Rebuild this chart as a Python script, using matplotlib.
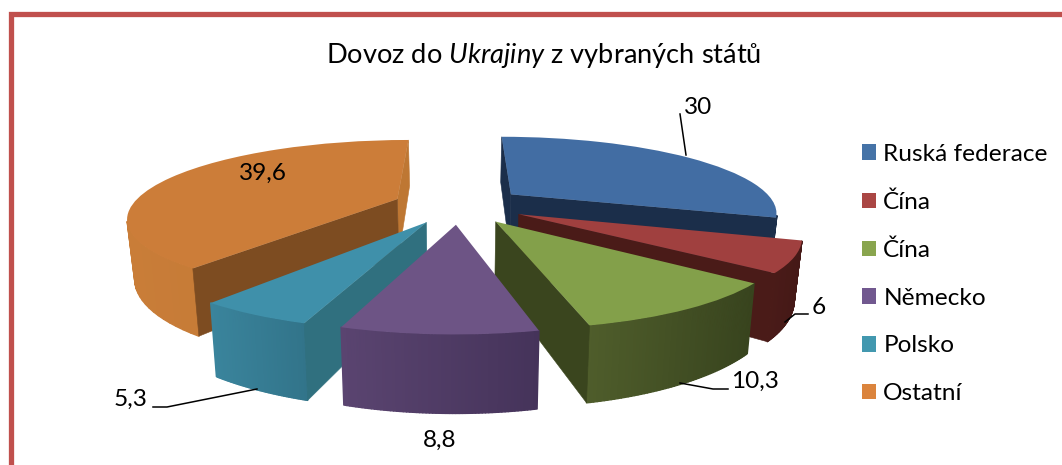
import numpy as np
import matplotlib
matplotlib.use('Agg')
from matplotlib import pyplot as plt
from matplotlib.collections import PolyCollection
from matplotlib.colors import to_rgb
from matplotlib.patches import Patch, Polygon
from matplotlib.transforms import Transform

plt.rcParams['font.family'] = ['Lato', 'DejaVu Sans']
plt.rcParams['mathtext.fontset'] = 'custom'
plt.rcParams['mathtext.rm'] = 'Lato'
plt.rcParams['mathtext.it'] = 'Lato:italic'

# data
labels = ['Ruská federace', 'Čína', 'Čína', 'Německo', 'Polsko', 'Ostatní']
values = [30, 6, 10.3, 8.8, 5.3, 39.6]
value_labels = ['30', '6', '10,3', '8,8', '5,3', '39,6']

legend_colors = ['#4573A7', '#AA4644', '#89A54E', '#71588F', '#4298AF', '#DB843D']
top_colors = ['#426DA3', '#A0403F', '#83A04A', '#6D5485', '#3F90AA', '#CC7D39']
rim_left = ['#2A4468', '#4A1B18', '#4F5D2B', '#5A4470', '#3A849C', '#C97D38']
rim_right = ['#1B2E4A', '#451917', '#38441E', '#45335A', '#32748A', '#BE7635']
start_wall_colors = ['#1B2E4A', '#4A1B18', '#3A451E', '#44335A', '#30707F', '#BE7733']
end_wall_colors = ['#1B2E4A', '#4A1B18', '#3A451E', '#44335A', '#30707F', '#7D4C21']
draw_order = [1, 2, 3, 5, 4, 0]  # painter's order of the slices, back to front

# camera of the 3d pie, in pixels
CX, CY, HORIZON = 459, 205, -130
R, P, DEPTH, SHRINK = 265, 0.223, 57, 0.023


def project(x, y, z=0.0):
    w = 1 + P * np.asarray(y)
    sx = CX + np.asarray(x) * R / w * (1 - SHRINK * z)
    sy = HORIZON + (CY - HORIZON) / w + DEPTH * z / w
    return sx, sy


class PieProjection(Transform):
    input_dims = output_dims = 2
    is_affine = False
    has_inverse = False

    def transform_non_affine(self, values):
        sx, sy = project(values[:, 0], values[:, 1])
        return np.column_stack([sx, sy])


def area(pts):
    x, y = np.asarray(pts).T
    return 0.5 * np.sum(x * np.roll(y, -1) - np.roll(x, -1) * y)


fig = plt.figure(figsize=(10.62, 4.65), dpi=100, facecolor='white')
ax = fig.add_axes([0, 0, 1, 1])

wedges, _ = ax.pie(values, explode=[0.25] * 6, startangle=90, counterclock=False,
                   colors=top_colors)
ax.set_aspect('auto')
ax.set_xlim(0, 1062)
ax.set_ylim(465, 0)
ax.axis('off')

proj = PieProjection()
for i, wedge in enumerate(wedges):
    z0 = (draw_order[i] + 1) * 10
    wedge.set_transform(proj + ax.transData)
    wedge.set_zorder(z0 + 3)
    wedge.set_linewidth(0)
    cx, cy = wedge.center
    t = np.radians(np.linspace(wedge.theta1, wedge.theta2, 61))
    ax_x = cx + wedge.r * np.cos(t)
    ax_y = cy + wedge.r * np.sin(t)

    # outer rim, cut in strips for the shading
    top_x, top_y = project(ax_x, ax_y, 0)
    bot_x, bot_y = project(ax_x, ax_y, 1)
    polys, cols = [], []
    c_l, c_r = np.array(to_rgb(rim_left[i])), np.array(to_rgb(rim_right[i]))
    span = max(top_x.max() - top_x.min(), 1)
    for k in range(len(t) - 1):
        quad = [(top_x[k], top_y[k]), (top_x[k + 1], top_y[k + 1]),
                (bot_x[k + 1], bot_y[k + 1]), (bot_x[k], bot_y[k])]
        if area(quad) < 0:
            continue
        f = (top_x[k] - top_x.min()) / span
        polys.append(quad)
        cols.append(c_l * (1 - f) + c_r * f)
    if polys:
        # plain edges overlap the seams, otherwise the strips show as hatching
        ax.add_collection(PolyCollection(polys, facecolors=cols, edgecolors=cols,
                                         linewidths=1.0, zorder=z0 + 1))

    # the two flat walls
    for end, col in ((0, start_wall_colors[i]), (-1, end_wall_colors[i])):
        ox, oy = ax_x[end], ax_y[end]
        quad = [project(cx, cy, 0), project(ox, oy, 0),
                project(ox, oy, 1), project(cx, cy, 1)]
        facing = area(quad)
        if (end == 0 and facing < 0) or (end == -1 and facing > 0):
            continue
        ax.add_patch(Polygon(quad, closed=True, facecolor=col, edgecolor=col,
                             linewidth=0.4, zorder=z0 + 2))

# value labels and leader lines
label_pos = [(698, 107), (819, 307), (755, 381), (440, 440), (131, 399), (263, 173)]
leaders = [[(686, 155), (680, 114)],
           [(785, 322), (795, 314), (808, 314)],
           [(680, 383), (713, 389), (728, 389)],
           None,
           [(257, 389), (167, 407), (153, 407)],
           None]
for txt, pos, line in zip(value_labels, label_pos, leaders):
    ax.text(pos[0], pos[1], txt, fontsize=17.6, color='black', ha='center', va='center',
            zorder=100)
    if line:
        ax.plot(*zip(*line), color='black', lw=1.1, zorder=100, clip_on=False)

ax.text(544, 55, r'Dovoz do $\mathit{Ukrajiny}$ z vybraných států', fontsize=19.6,
        ha='center', va='center', color='black')

handles = [Patch(facecolor=c, edgecolor='none') for c in legend_colors]
ax.legend(handles, labels, loc='upper left', bbox_to_anchor=(852, 134),
          bbox_transform=ax.transData, frameon=False, fontsize=17.6,
          handlelength=0.6, handleheight=0.6, handletextpad=0.28,
          labelspacing=1.09, borderpad=0.4, borderaxespad=0)

# frame
ax.plot([11, 11, 1062], [465, 14, 14], color='#C0504D', lw=3.8, solid_joinstyle='miter',
        solid_capstyle='butt', clip_on=False, zorder=90)

fig.savefig('out.png', dpi=100)
